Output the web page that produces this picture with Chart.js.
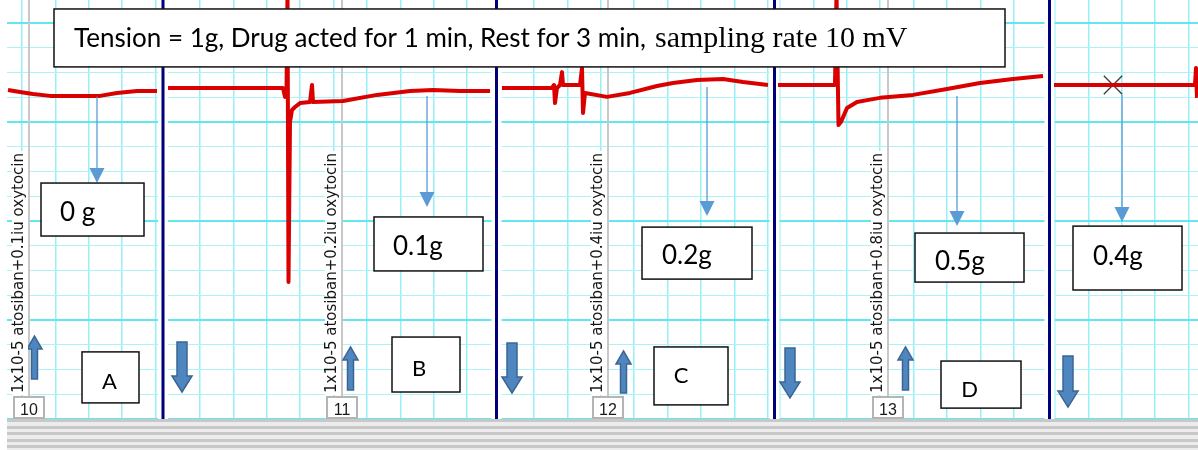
<!DOCTYPE html>
<html>
<head>
<meta charset="utf-8">
<title>Tension recording</title>
<script src="https://cdn.jsdelivr.net/npm/chart.js@4.4.1/dist/chart.umd.min.js"></script>
<style>
  html, body { margin: 0; padding: 0; background: #fff; }
  #box { position: relative; width: 1198px; height: 450px; overflow: hidden; }
  #chart { position: absolute; left: 0; top: 0; }
  #scrollbar {
    position: absolute; left: 7px; top: 419px; width: 1191px; height: 31px;
    background: repeating-linear-gradient(to bottom, #c8c8c8 0px, #c8c8c8 3px, #ececec 3px, #ececec 6.6px);
  }
</style>
</head>
<body>
<div id="box">
  <canvas id="chart" width="1198" height="419"></canvas>
  <div id="scrollbar"></div>
</div>
<script>
// =========================
// DATA (time in sample columns, tension in grid divisions)
// =========================
const blockA_t = [8, 20, 33, 50, 100, 117, 137, 157];
const blockA_v = [13.29, 13.21, 13.13, 13.05, 13.05, 13.17, 13.25, 13.25];

const blockB_t = [168, 283, 285, 286.5, 287.5, 288.5, 290, 292, 295, 300, 310, 312, 313, 343, 377, 410, 433, 460, 490];
const blockB_v = [13.37, 13.37, 13.01, 13.21, 17.2, 5.53, 12.00, 12.48, 12.60, 12.76, 12.80, 13.49, 12.80, 12.84, 13.09, 13.25, 13.29, 13.25, 13.25];

const blockC_t = [502, 552, 554, 555, 557, 560, 562, 563, 580, 582, 583, 585, 607, 630, 657, 673, 697, 723, 743, 768];
const blockC_v = [13.37, 13.37, 13.49, 12.76, 13.37, 13.49, 14.01, 13.49, 13.49, 14.18, 12.36, 13.17, 13.01, 13.17, 13.45, 13.57, 13.69, 13.73, 13.61, 13.49];

const blockD_t = [778, 835, 836.5, 838.5, 841, 847, 857, 870, 880, 913, 947, 980, 1013, 1043];
const blockD_v = [13.49, 13.49, 17.2, 11.87, 12.00, 12.56, 12.80, 12.90, 12.97, 13.09, 13.33, 13.57, 13.73, 13.85];

const blockE_t = [1054, 1195, 1196, 1197];
const blockE_v = [13.49, 13.49, 14.18, 12.97];

const mark_t = [1113];
const mark_v = [13.49];

// block dividers and drug comments
const dividerT = [163, 496.5, 774.5, 1049.5];
const commentT = [29, 342, 608, 888];
const commentText = [
    "1x10-5 atosiban+0.1iu oxytocin",
    "1x10-5 atosiban+0.2iu oxytocin",
    "1x10-5 atosiban+0.4iu oxytocin",
    "1x10-5 atosiban+0.8iu oxytocin"
];
const commentNo = ["10", "11", "12", "13"];

// measured responses
const responseText = ["0 g", "0.1g", "0.2g", "0.5g", "0.4g"];
const responseT = [97, 427, 707, 957, 1122];
const responseFrom = [13.01, 13.05, 13.41, 13.05, 13.09];
const responseTo = [9.53, 8.56, 8.20, 7.79, 7.96];

const blockLetters = ["A", "B", "C", "D"];
const titleText = "Tension = 1g, Drug acted for 1 min, Rest for 3 min,";
const titleSerif = "sampling rate 10 mV";

// grid: one division = 33.4 columns, per block phase
const gridStep = 33.4;
const gridStart = [22, 200, 534, 780, 1055];
const gridEnd = [158, 492, 770, 1046, 1198];
const yTop = 419 / 24.76;

// =========================
// LAYOUT OF THE NOTES (axis units)
// =========================
const titleBox = { x0: 54, x1: 1005, y0: 16.56, y1: 14.22, tx: 74, ty: 15.02, txEnd: 646, serifX: 655 };
const responseBox = [
    { x0: 41, x1: 144, y0: 9.53, y1: 7.39, tx: 60, ty: 8.00 },
    { x0: 374, x1: 483, y0: 8.16, y1: 5.98, tx: 393, ty: 6.62 },
    { x0: 642, x1: 752, y0: 7.75, y1: 5.65, tx: 662, ty: 6.26 },
    { x0: 915, x1: 1024, y0: 7.51, y1: 5.53, tx: 935, ty: 6.02 },
    { x0: 1073, x1: 1182, y0: 7.79, y1: 5.21, tx: 1093, ty: 6.22 }
];
const letterBox = [
    { x0: 82, x1: 139, y0: 2.71, y1: 0.65, tx: 109.5, ty: 1.21 },
    { x0: 392, x1: 460, y0: 3.31, y1: 1.09, tx: 419, ty: 1.74 },
    { x0: 654, x1: 728, y0: 2.91, y1: 0.57, tx: 681, ty: 1.45 },
    { x0: 941, x1: 1021, y0: 2.34, y1: 0.44, tx: 969.5, ty: 0.89 }
];
const upArrows = [[34.5, 3.35, 1.62], [350.5, 2.91, 1.17], [623.5, 2.75, 1.05], [905.5, 2.91, 1.17]];
const downArrows = [[182, 1.09, 3.11], [512, 1.05, 3.07], [790, 0.85, 2.87], [1068, 0.48, 2.54]];
const commentBase = 1.05;
const numberTop = 0.89;

// =========================
// DRAWING HELPERS
// =========================
function rectBox(ctx, x, y, w, h, fill, stroke, lw) {
    ctx.fillStyle = fill;
    ctx.fillRect(x, y, w, h);
    ctx.strokeStyle = stroke;
    ctx.lineWidth = lw;
    ctx.strokeRect(x, y, w, h);
}

function blockArrow(ctx, cx, tipY, tailY, shaftW, headW, headH) {
    const dir = tailY > tipY ? 1 : -1; // 1 = pointing up
    const neck = tipY + dir * headH;
    ctx.beginPath();
    ctx.moveTo(cx, tipY);
    ctx.lineTo(cx + headW / 2, neck);
    ctx.lineTo(cx + shaftW / 2, neck);
    ctx.lineTo(cx + shaftW / 2, tailY);
    ctx.lineTo(cx - shaftW / 2, tailY);
    ctx.lineTo(cx - shaftW / 2, neck);
    ctx.lineTo(cx - headW / 2, neck);
    ctx.closePath();
    ctx.fillStyle = "#4f86c0";
    ctx.fill();
    ctx.strokeStyle = "#3a6592";
    ctx.lineWidth = 1.5;
    ctx.stroke();
}

const notes = {
    id: "notes",
    beforeDatasetsDraw(chart) {
        const { ctx, chartArea: a, scales: { x, y } } = chart;
        ctx.save();
        // comment marker lines
        ctx.strokeStyle = "#c8c8c8";
        ctx.lineWidth = 2;
        commentT.forEach(t => {
            const px = Math.round(x.getPixelForValue(t));
            ctx.beginPath();
            ctx.moveTo(px, a.top);
            ctx.lineTo(px, a.bottom);
            ctx.stroke();
        });
        // block dividers with a clear gap
        dividerT.forEach(t => {
            const px = x.getPixelForValue(t);
            ctx.fillStyle = "#fff";
            ctx.fillRect(px - 5, a.top, 10, a.bottom - a.top);
            ctx.fillStyle = "#00007a";
            ctx.fillRect(px - 1.5, a.top, 3, a.bottom - a.top);
        });
        ctx.restore();
    },
    afterDatasetsDraw(chart) {
        const { ctx, scales: { x, y } } = chart;
        const X = v => x.getPixelForValue(v);
        const Y = v => y.getPixelForValue(v);
        ctx.save();

        // title box
        rectBox(ctx, X(titleBox.x0), Y(titleBox.y0), X(titleBox.x1) - X(titleBox.x0), Y(titleBox.y1) - Y(titleBox.y0), "#fff", "#111", 1.5);
        ctx.fillStyle = "#000";
        ctx.textBaseline = "alphabetic";
        ctx.textAlign = "left";
        ctx.font = '24px Lato';
        const want = X(titleBox.txEnd) - X(titleBox.tx);
        const size = 24 * want / ctx.measureText(titleText).width;
        ctx.font = size.toFixed(2) + 'px Lato';
        ctx.fillText(titleText, X(titleBox.tx), Y(titleBox.ty));
        ctx.font = '30px "Liberation Serif"';
        ctx.fillText(titleSerif, X(titleBox.serifX), Y(titleBox.ty));

        // response arrows
        ctx.strokeStyle = "#5b9bd5";
        ctx.fillStyle = "#5b9bd5";
        ctx.lineWidth = 1.3;
        responseT.forEach((t, i) => {
            const px = X(t), y0 = Y(responseFrom[i]), y1 = Y(responseTo[i]);
            ctx.beginPath();
            ctx.moveTo(px, y0);
            ctx.lineTo(px, y1 - 12);
            ctx.stroke();
            ctx.beginPath();
            ctx.moveTo(px - 7.5, y1 - 15);
            ctx.lineTo(px + 7.5, y1 - 15);
            ctx.lineTo(px, y1);
            ctx.closePath();
            ctx.fill();
        });

        // response boxes
        responseBox.forEach((b, i) => {
            const bx = X(b.x0), by = Y(b.y0), bw = X(b.x1) - bx, bh = Y(b.y1) - by;
            rectBox(ctx, bx, by, bw, bh, "#fff", "#111", 1.5);
            ctx.save();
            ctx.beginPath();
            ctx.rect(bx, by, bw, bh - 1);
            ctx.clip();
            ctx.fillStyle = "#000";
            ctx.font = '26px Lato';
            ctx.textAlign = "left";
            ctx.fillText(responseText[i], X(b.tx), Y(b.ty));
            ctx.restore();
        });

        // block letters
        letterBox.forEach((b, i) => {
            const bx = X(b.x0), by = Y(b.y0);
            rectBox(ctx, bx, by, X(b.x1) - bx, Y(b.y1) - by, "#fff", "#111", 1.5);
            ctx.fillStyle = "#000";
            ctx.font = '22px Lato';
            ctx.textAlign = "center";
            ctx.fillText(blockLetters[i], X(b.tx), Y(b.ty));
        });

        // drug in / wash out arrows
        upArrows.forEach(a => blockArrow(ctx, X(a[0]), Y(a[1]), Y(a[2]), 6, 15, 13));
        downArrows.forEach(a => blockArrow(ctx, X(a[0]), Y(a[1]), Y(a[2]), 10, 20, 16));

        // comment labels
        commentT.forEach((t, i) => {
            const px = Math.round(X(t));
            const base = Y(commentBase);
            ctx.font = '15px "DejaVu Sans"';
            const len = ctx.measureText(commentText[i]).width;
            ctx.fillStyle = "#fff";
            ctx.fillRect(px - 17, base - len - 2, 16, len + 4);
            ctx.save();
            ctx.translate(px - 9.5, base);
            ctx.rotate(-Math.PI / 2);
            ctx.fillStyle = "#151515";
            ctx.textAlign = "left";
            ctx.textBaseline = "middle";
            ctx.fillText(commentText[i], 0, 0);
            ctx.restore();

            const top = Y(numberTop), bottom = Y(0) - 1;
            rectBox(ctx, px - 15, top, 30, bottom - top, "#fff", "#b4b4b4", 2);
            ctx.fillStyle = "#1a1a1a";
            ctx.font = '16px "Liberation Sans"';
            ctx.textAlign = "center";
            ctx.textBaseline = "alphabetic";
            ctx.fillText(commentNo[i], px, bottom - 3);
        });

        ctx.restore();
    }
};

// =========================
// CHART
// =========================
const traces = [
    [blockA_t, blockA_v], [blockB_t, blockB_v], [blockC_t, blockC_v],
    [blockD_t, blockD_v], [blockE_t, blockE_v]
];

const datasets = traces.map(([t, v]) => ({
    type: "line",
    data: t.map((tt, i) => ({ x: tt, y: v[i] })),
    borderColor: "#da0000",
    borderWidth: 4,
    borderJoinStyle: "round",
    pointRadius: 0,
    tension: 0
}));

datasets.push({
    type: "scatter",
    data: mark_t.map((tt, i) => ({ x: tt, y: mark_v[i] })),
    pointStyle: "crossRot",
    pointRadius: 13,
    borderColor: "#3a3a3a",
    borderWidth: 1.3
});

const xGrid = [];
gridStart.forEach((s, i) => {
    for (let v = s; v < gridEnd[i]; v += gridStep) xGrid.push(v);
});

new Chart(document.getElementById("chart"), {
    type: "line",
    data: { datasets },
    options: {
        responsive: false,
        animation: false,
        devicePixelRatio: 1,
        layout: { padding: { left: 7, top: 0, right: 0, bottom: 0 }, autoPadding: false },
        plugins: { legend: { display: false }, tooltip: { enabled: false } },
        scales: {
            x: {
                type: "linear",
                min: 7,
                max: 1198,
                border: { display: false },
                ticks: { display: false },
                grid: { drawTicks: false, color: "#98eff5", lineWidth: 1.5 },
                afterBuildTicks: s => { s.ticks = xGrid.map(v => ({ value: v })); }
            },
            y: {
                type: "linear",
                min: 0,
                max: yTop,
                border: { display: false },
                ticks: { display: false },
                grid: {
                    drawTicks: false,
                    color: c => (c.tick.value % 4 === 0 ? "#62e6ef" : "#adf2f6"),
                    lineWidth: c => (c.tick.value % 4 === 0 ? 2 : 1)
                },
                afterBuildTicks: s => {
                    s.ticks = [];
                    for (let v = 0; v <= 16; v++) s.ticks.push({ value: v });
                }
            }
        }
    },
    plugins: [notes]
});
</script>
</body>
</html>
